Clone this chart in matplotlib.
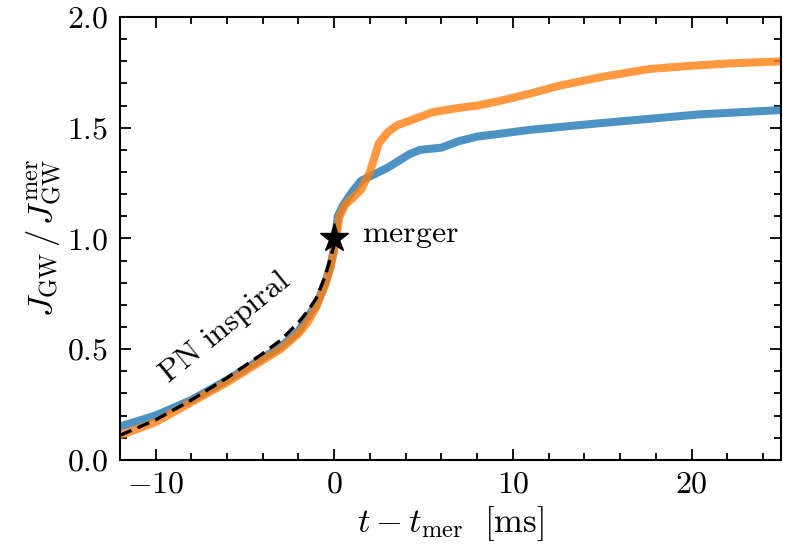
import numpy as np
import matplotlib
matplotlib.use("Agg")
import matplotlib.pyplot as plt
from matplotlib.ticker import MultipleLocator

plt.rcParams["mathtext.fontset"] = "cm"
plt.rcParams["font.family"] = "serif"
plt.rcParams["font.serif"] = ["cmr10", "DejaVu Serif"]
plt.rcParams["axes.formatter.use_mathtext"] = True

# run 1 (blue)
t_blue = [-12, -10, -8, -6, -4, -3, -2, -1.5, -1, -0.5, -0.2, 0, 0.2, 0.5, 1.0, 1.5,
          2, 2.5, 3, 3.6, 4.2, 4.8, 6, 7, 8, 9, 10.9, 14.8, 20.4, 25]
j_blue = [0.15, 0.20, 0.27, 0.36, 0.46, 0.51, 0.58, 0.645, 0.70, 0.80, 0.88, 0.96, 1.10, 1.15, 1.21, 1.26,
          1.28, 1.30, 1.32, 1.35, 1.38, 1.40, 1.41, 1.44, 1.46, 1.47, 1.49, 1.52, 1.56, 1.58]

# run 2 (orange)
t_orange = [-12, -10, -8, -6, -4, -3, -2, -1.5, -1, -0.5, -0.2, 0, 0.3, 0.6, 1.0, 1.5,
            2, 2.5, 3, 3.5, 4.5, 5.5, 7, 8, 9.2, 10, 11, 12.6, 15, 17.6, 20, 22, 25]
j_orange = [0.11, 0.17, 0.26, 0.35, 0.45, 0.50, 0.57, 0.62, 0.69, 0.79, 0.87, 0.95, 1.10, 1.15, 1.18, 1.22,
            1.30, 1.43, 1.48, 1.51, 1.54, 1.57, 1.59, 1.60, 1.62, 1.635, 1.655, 1.69, 1.73, 1.765, 1.78, 1.79, 1.80]

# PN inspiral
t_pn = [-12, -10, -8, -6, -4, -3, -2, -1.5, -1, -0.5, 0]
j_pn = [0.11, 0.18, 0.27, 0.37, 0.48, 0.54, 0.62, 0.67, 0.73, 0.83, 0.97]

fig = plt.figure(figsize=(7.88, 5.5), dpi=100)
ax = fig.add_axes([0.152, 0.164, 0.839, 0.805])

ax.plot(t_blue, j_blue, color="C0", lw=5.8, alpha=0.8, solid_capstyle="butt")
ax.plot(t_orange, j_orange, color="C1", lw=5.8, alpha=0.8, solid_capstyle="butt")
ax.plot(t_pn, j_pn, color="k", lw=2.4, ls=(0, (3.8, 2.0)))
ax.plot([0], [1.0], marker="*", color="k", ms=21, zorder=5)

ax.text(1.55, 1.01, r"$\mathrm{merger}$", fontsize=23, va="center", ha="left")
ax.text(-6.1, 0.60, r"$\mathrm{PN\ inspiral}$", fontsize=23, rotation=39,
        ha="center", va="center")

ax.set_xlim(-12, 25)
ax.set_ylim(0, 2)
ax.xaxis.set_major_locator(MultipleLocator(10))
ax.xaxis.set_minor_locator(MultipleLocator(2))
ax.yaxis.set_major_locator(MultipleLocator(0.5))
ax.yaxis.set_minor_locator(MultipleLocator(0.1))
ax.yaxis.set_major_formatter(plt.FuncFormatter(lambda v, p: r"$%.1f$" % v))
ax.xaxis.set_major_formatter(plt.FuncFormatter(lambda v, p: r"$%d$" % v if v >= 0 else r"$-%d$" % -v))
ax.tick_params(which="both", direction="in", top=True, right=True, width=1.3, labelsize=23)
ax.tick_params(which="major", length=8, pad=8)
ax.tick_params(which="minor", length=5)
for s in ax.spines.values():
    s.set_linewidth(1.5)

ax.set_xlabel(r"$t - t_{\rm mer}\ \ [\rm ms]$", fontsize=25, labelpad=4)
ax.set_ylabel(r"$J_{\rm GW}\,/\,J_{\rm GW}^{\rm mer}$", fontsize=25, labelpad=2)

fig.savefig("out.png", dpi=100)
